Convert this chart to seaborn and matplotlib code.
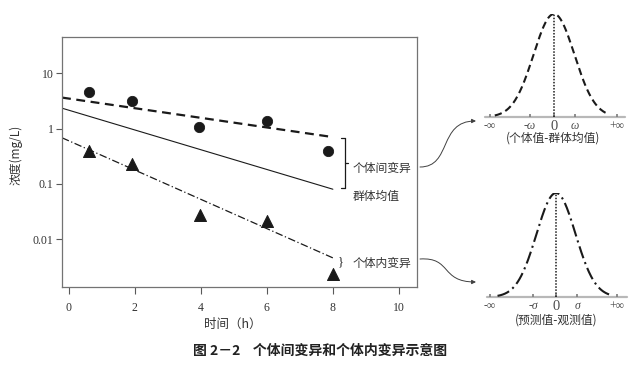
import numpy as np
import seaborn as sns
import matplotlib.pyplot as plt
from matplotlib.patches import FancyArrowPatch
from matplotlib.path import Path
from matplotlib.lines import Line2D

t_circle = [0.62, 1.9, 3.95, 6.0, 7.86]
c_circle = [4.5, 3.2, 1.05, 1.35, 0.39]
t_tri = [0.62, 1.9, 3.97, 6.0, 8.0]
c_tri = [0.40, 0.225, 0.0275, 0.0215, 0.0024]

# fitted lines, start / end
t_fit = [-0.21, 8.0]
fit_indiv = [3.62, 0.70]
fit_pop = [2.33, 0.080]
fit_within = [0.68, 0.0046]

xticks = [0, 2, 4, 6, 8, 10]
yticks = [0.01, 0.1, 1, 10]
yticklabels = ['0.01', '0.1', '1', '10']

# distribution sketches (in sd units)
mu, sd = 0.0, 1.0
top_range = (-2.9, 2.65)
top_xlim = (-3.38, 3.48)
top_ticks = [-3.14, -1.18, 0, 1.03, 3.09]
top_labels = ['-∞', '-ω', '0', 'ω', '+∞']
bot_range = (-3.0, 2.9)
bot_xlim = (-3.54, 3.64)
bot_ticks = [-3.38, -1.18, 0, 1.08, 3.13]
bot_labels = ['-∞', '-σ', '0', 'σ', '+∞']

sns.set_theme(style='ticks')
plt.rcParams['font.family'] = ['Noto Sans CJK SC', 'DejaVu Sans']
serif = ['Liberation Serif', 'DejaVu Serif']
W, H = 643, 380
txt = '#333333'


def px(x, y):
    return (x / W, 1 - y / H)


fig = plt.figure(figsize=(6.43, 3.80), dpi=100)

# main plot
ax = fig.add_axes([62 / W, 1 - 287 / H, 355 / W, 250 / H])
sns.scatterplot(x=t_circle, y=c_circle, ax=ax, color='k', marker='o', s=55, edgecolor='k', zorder=3)
sns.scatterplot(x=t_tri, y=c_tri, ax=ax, color='k', marker='^', s=75, edgecolor='k', zorder=3)
sns.lineplot(x=t_fit, y=fit_indiv, ax=ax, color='k', lw=1.6, linestyle=(0, (4, 2.5)))
sns.lineplot(x=t_fit, y=fit_pop, ax=ax, color='k', lw=0.8)
sns.lineplot(x=t_fit, y=fit_within, ax=ax, color='k', lw=0.9, linestyle=(0, (6, 2, 1, 2)))
ax.set_yscale('log')
ax.set_xlim(-0.21, 10.55)
ax.set_ylim(0.00137, 45)
ax.set_xticks(xticks)
ax.set_xticklabels([str(v) for v in xticks], family=serif, fontsize=8.5, color=txt)
ax.set_yticks(yticks)
ax.set_yticklabels(yticklabels, family=serif, fontsize=8.5, color=txt)
ax.minorticks_off()
ax.tick_params(axis='x', length=5, width=0.8, color='0.35', pad=6)
ax.tick_params(axis='y', length=4, width=0.8, color='0.35', pad=2)
for s in ax.spines.values():
    s.set_color('0.45')
    s.set_linewidth(0.9)
ax.set_xlabel('时间（h）', fontsize=9, color=txt)
ax.set_ylabel('浓度(mg/L)', fontsize=8.5, color=txt)
ax.xaxis.set_label_coords(0.482, -0.125)
ax.yaxis.set_label_coords(-0.11, 0.53)

# bracket for between-subject variability
for seg in [[(345, 138), (345, 188)], [(341, 138), (345, 138)],
            [(341, 188), (345, 188)], [(345, 163), (348, 163)]]:
    xs, ys = zip(*[px(*p) for p in seg])
    fig.add_artist(Line2D(xs, ys, color='k', lw=0.9))
fig.text(*px(353, 168), '个体间变异', fontsize=8.5, color=txt, va='center')
fig.text(*px(353, 196), '群体均值', fontsize=8.5, color=txt, va='center')
fig.text(*px(338, 262), '}', fontsize=9, color='k', va='center', family=serif)
fig.text(*px(353, 263), '个体内变异', fontsize=8.5, color=txt, va='center')

# arrows
for pts in [[(420, 167), (452, 167), (438, 121), (476, 121)],
            [(420, 259), (452, 257), (440, 282), (476, 282)]]:
    path = Path([px(*p) for p in pts], [Path.MOVETO, Path.CURVE4, Path.CURVE4, Path.CURVE4])
    arr = FancyArrowPatch(path=path, arrowstyle='-|>', mutation_scale=6, lw=0.7,
                          color='0.25', transform=fig.transFigure)
    fig.add_artist(arr)


def sketch(rect, zr, xlim, ticks, labels, ls, caption, cap_xy):
    a = fig.add_axes(rect)
    z = np.linspace(zr[0], zr[1], 200)
    dens = np.exp(-0.5 * ((z - mu) / sd) ** 2) / (sd * np.sqrt(2 * np.pi))
    sns.lineplot(x=z, y=dens, ax=a, color='0.1', lw=1.5, linestyle=ls)
    a.axhline(0, color='0.72', lw=1.6, clip_on=False, zorder=0)
    a.vlines(mu, 0, dens.max(), color='k', lw=1.1, linestyles=(0, (1, 1)))
    a.set_xlim(*xlim)
    a.set_ylim(0, 0.3989)
    a.set_yticks([])
    a.set_xticks(ticks)
    a.set_xticklabels(labels, family=serif, fontsize=8.5, color='0.3')
    a.get_xticklabels()[2].set_fontsize(10.5)
    for i in (1, 3):
        a.get_xticklabels()[i].set_style('italic')
    a.tick_params(axis='x', direction='in', length=2.5, color='0.5', pad=2)
    for s in a.spines.values():
        s.set_visible(False)
    a.patch.set_alpha(0)
    fig.text(*px(*cap_xy), caption, fontsize=8.5, color=txt, ha='center', va='center')


sketch([485 / W, 1 - 117 / H, 140 / W, 103 / H], top_range, top_xlim, top_ticks,
       top_labels, (0, (3.5, 2)), '(个体值-群体均值)', (553, 138))
sketch([487 / W, 1 - 297 / H, 140 / W, 104 / H], bot_range, bot_xlim, bot_ticks,
       bot_labels, (0, (6, 2, 1, 2)), '(预测值-观测值)', (556, 320))

fig.text(*px(320, 351), '图 2－2    个体间变异和个体内变异示意图', fontsize=10,
         fontweight='bold', color='#222222', ha='center', va='center')

fig.savefig('out.png', dpi=100)
